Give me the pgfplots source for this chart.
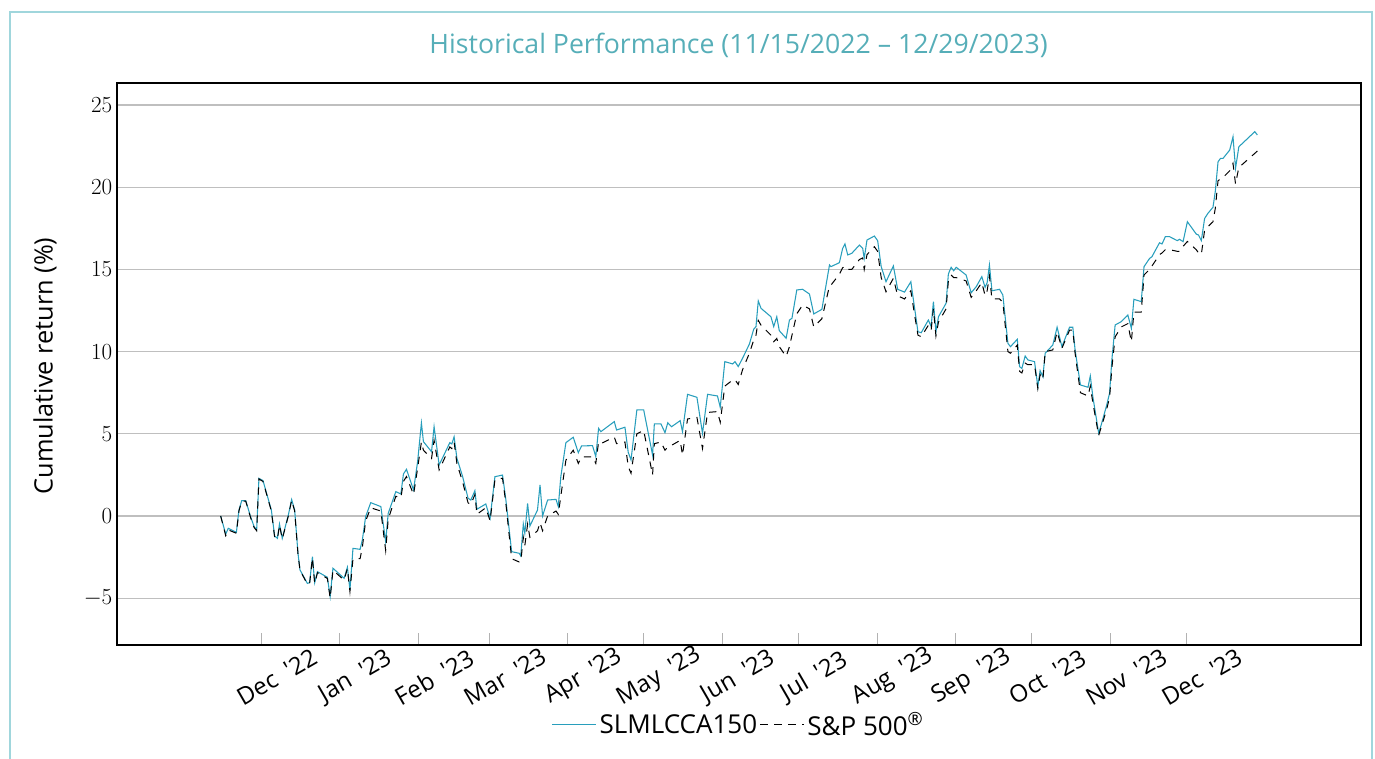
\documentclass[border=0pt]{standalone}
\usepackage{pgfplots}
\pgfplotsset{compat=1.18}
\usepackage{fontspec}
\setmainfont{Open Sans}
\definecolor{lineteal}{RGB}{40,158,188}
\definecolor{titleteal}{RGB}{86,174,184}
\definecolor{frameteal}{RGB}{160,214,220}
\newcommand{\q}{\hspace{4.5pt}\textquotesingle}
\begin{document}
\begin{tikzpicture}
\useasboundingbox (0,0) rectangle (1031.25pt,-568.5pt);
\draw[frameteal, line width=1.1pt] (7.5pt,-600pt) -- (7.5pt,-9pt) -- (1029pt,-9pt) -- (1029pt,-600pt);
\node[titleteal, font=\fontsize{20}{24}\selectfont] at (553.9pt,-33.75pt) {Historical Performance (11/15/2022 -- 12/29/2023)};
\node[black, rotate=90, font=\fontsize{19}{23}\selectfont] at (33.75pt,-274.5pt) {Cumulative return (\%)};
\begin{axis}[
  at={(87.75pt,-62.25pt)}, anchor=north west,
  scale only axis, width=933pt, height=421.5pt,
  xmin=-40.9, xmax=449.9, ymin=-7.85, ymax=26.34,
  axis line style={black, line width=0.8pt},
  xtick={16,47,78,106,137,167,198,228,259,290,320,351,381},
  xticklabels={Dec \q22,Jan \q23,Feb \q23,Mar \q23,Apr \q23,May \q23,Jun \q23,Jul \q23,Aug \q23,Sep \q23,Oct \q23,Nov \q23,Dec \q23},
  xtick pos=bottom, tick align=inside, major tick length=9pt,
  xtick style={draw=gray!60, line width=0.8pt},
  xticklabel style={xshift=12pt, yshift=-24pt, rotate=30, anchor=center, font=\fontsize{18}{21}\selectfont},
  ytick={-5,0,5,10,15,20,25},
  ytick style={draw=none},
  yticklabel style={font=\fontsize{19}{21}\selectfont},
  ymajorgrids, grid style={gray!50, line width=0.8pt},
  legend style={at={(0.5,-0.142)}, anchor=center, draw=none, fill=none, legend columns=-1,
    font=\fontsize{19.5}{22}\selectfont, /tikz/every even column/.append style={column sep=0pt}},
  legend image code/.code={\draw[#1] (0pt,0pt) -- (33pt,0pt);},
]
\addplot[lineteal, line width=0.8pt] coordinates {
(0,0) (2,-1.1) (3,-0.75) (6.2,-1.0) (7.2,0.36) (8.3,0.93) (9.9,0.93) (11.8,-0.04) (13.2,-0.65) (14.2,-0.85)
(15.1,2.29) (16.7,2.15) (20,0.36) (21.3,-1.22) (22.4,-1.36) (23.2,-0.49) (24.3,-1.36) (26.7,0.06) (28,1.0) (29.2,0.36)
(30.5,-2.27) (31.3,-3.28) (34.2,-4.1) (35.1,-4.06) (36.2,-2.48) (37.1,-4.06) (38.2,-3.39) (42.1,-3.73) (43.2,-4.9) (44.3,-3.18)
(48.7,-3.79) (50,-3.12) (51,-4.5) (52.2,-1.97) (55,-2.03) (55.9,-1.46) (57.2,-0.04) (59.2,0.81) (63.2,0.57) (65.1,-1.56)
(66.1,0.16) (69.1,1.48) (71.1,1.34) (72.1,2.55) (73.3,2.84) (76.1,1.58) (77.7,3.30) (79.2,5.66) (80,4.52) (83.2,3.91)
(84.2,5.43) (86.2,3.10) (90.4,4.46) (91.2,4.38) (92.1,4.82) (93.2,3.51) (95.4,2.43) (97.6,1.08) (98.7,0.97) (100.3,1.54)
(101.1,0.41) (104.6,0.73) (106.3,-0.14) (108.2,2.39) (111.2,2.49) (112.5,1.01) (114.8,-2.17) (117.8,-2.27) (118.4,-2.43) (119.4,-0.49)
(120,-1.05) (121.1,0.77) (122,-0.61) (125,0.36) (126,1.89) (127,0) (129,0.97) (132.3,1.01) (133.2,0.57) (134.2,2.39)
(136.2,4.46) (139.1,4.79) (141.1,3.85) (142.4,4.26) (146.7,4.28) (148,3.61) (149.1,5.33) (150,5.13) (155.3,5.74) (156.2,5.23)
(159.5,5.40) (160.8,3.87) (161.9,3.41) (164.2,6.45) (166.9,6.45) (170.4,3.71) (171.1,5.60) (173.7,5.60) (175.3,5.07) (176.4,5.67)
(177.9,5.43) (181.3,5.80) (182.2,5.13) (184.2,7.40) (187.9,7.22) (190.1,5.03) (192.1,7.40) (196,7.30) (197.1,6.61) (198.9,9.39)
(202,9.25) (202.9,9.39) (204.2,9.09) (205.9,9.59) (208.6,10.46) (210.3,11.36) (211.2,11.52) (212.1,13.08) (213.2,12.63) (217.1,12.12)
(218.2,11.52) (219.4,12.12) (220.4,11.27) (223.1,10.81) (224.4,11.92) (225.4,12.03) (227.3,13.75) (229.6,13.79) (232.3,13.50) (234,12.29)
(237.2,12.57) (240.2,15.27) (240.8,15.17) (244.1,15.41) (245.4,16.28) (246.3,16.55) (247.4,15.88) (249,15.98) (252,16.48) (253.3,16.28)
(253.9,15.67) (255,16.79) (257.9,17.03) (259.2,16.75) (260.6,15.17) (262.5,14.25) (265.4,15.21) (267.1,13.79) (269.8,13.62) (272.3,14.25)
(273.7,12.73) (275.1,11.21) (276.4,11.15) (279.2,11.92) (280.3,11.52) (281.2,13.04) (282.2,11.21) (283.2,12.12) (286.2,12.94) (287.1,14.72)
(288.2,15.13) (289.2,14.92) (290.2,15.13) (294.1,14.66) (296.1,13.58) (298.1,13.95) (300.3,14.56) (301.6,13.91) (302.4,14.19) (303.3,15.27)
(304.3,13.70) (307.3,13.79) (308.6,13.44) (310.6,10.5) (311.6,10.3) (314.3,10.75) (315.2,9.08) (316.1,8.98) (317.4,9.73) (318.5,9.49)
(321.1,9.39) (322.4,7.87) (323.3,8.84) (324.4,8.47) (325.3,9.90) (328.3,10.4) (330,11.48) (331.9,10.3) (334.9,11.48) (336.2,11.48)
(337.1,10.1) (339.2,7.97) (342.2,7.83) (343.1,8.52) (344.1,7.26) (346.4,5.05) (347.4,5.54) (349.4,6.65) (350.7,7.46) (351.6,9.49)
(352.9,11.62) (355.3,11.82) (357.9,12.23) (359.3,11.42) (360.3,13.18) (363.2,13.04) (364.3,15.17) (366.5,15.67) (367.4,15.77) (370.4,16.62)
(371.4,16.55) (372.7,16.99) (374.4,16.99) (377.4,16.75) (378.3,16.83) (379.7,16.69) (381.4,17.90) (384.9,17.15) (385.8,17.09) (386.9,16.75)
(388.2,18.1) (389.5,18.41) (391.5,18.78) (392.4,19.73) (393.5,21.55) (394.5,21.76) (395.5,21.76) (398.1,22.26) (399.4,23.07) (400.4,21.15)
(401.7,22.46) (408,23.38) (409,23.18)
};
\addlegendentry{SLMLCCA150}
\addplot[black, line width=0.75pt, dash pattern=on 5.5pt off 5pt] coordinates {
(0,0) (2,-1.2) (3,-0.85) (6.2,-1.05) (7.2,0.3) (8.3,0.9) (9.9,0.9) (11.8,-0.1) (13.2,-0.7) (14.2,-0.9)
(15.1,2.25) (16.7,2.1) (20,0.3) (21.3,-1.3) (22.4,-1.4) (23.2,-0.55) (24.3,-1.4) (26.7,0.0) (28,0.95) (29.2,0.3)
(30.5,-2.3) (31.3,-3.3) (34.2,-4.15) (35.1,-4.1) (36.2,-2.55) (37.1,-4.1) (38.2,-3.45) (42.1,-3.8) (43.2,-5.0) (44.3,-3.3)
(48.7,-3.9) (50,-3.2) (51,-4.6) (52.2,-2.6) (55,-2.6) (55.9,-1.9) (57.2,-0.3) (59.2,0.5) (63.2,0.3) (65.1,-2.1)
(66.1,-0.2) (69.1,1.2) (71.1,1.1) (72.1,2.1) (73.3,2.4) (76.1,1.3) (77.7,2.9) (79.2,4.5) (80,4.0) (83.2,3.5)
(84.2,4.6) (86.2,2.8) (90.4,4.2) (91.2,4.1) (92.1,4.5) (93.2,3.2) (95.4,2.1) (97.6,0.8) (98.7,0.7) (100.3,1.3)
(101.1,0.1) (104.6,0.5) (106.3,-0.3) (108.2,2.2) (111.2,2.3) (112.5,0.8) (114.8,-2.6) (117.8,-2.8) (118.4,-2.8) (119.4,-1.3)
(120,-1.8) (121.1,-0.5) (122,-1.3) (125,-0.9) (126,-0.4) (127,-0.9) (129,0.0) (132.3,0.3) (133.2,0.1) (134.2,1.2)
(136.2,3.4) (139.1,4.0) (141.1,3.2) (142.4,3.6) (146.7,3.6) (148,3.2) (149.1,4.5) (150,4.4) (155.3,4.8) (156.2,4.4)
(159.5,4.5) (160.8,3.0) (161.9,2.6) (164.2,5.0) (166.9,5.2) (170.4,2.5) (171.1,4.4) (173.7,4.5) (175.3,4.0) (176.4,4.2)
(177.9,4.3) (181.3,4.6) (182.2,3.7) (184.2,5.9) (187.9,6.0) (190.1,4.1) (192.1,6.3) (196,6.35) (197.1,5.7) (198.9,7.9)
(202,8.27) (202.9,8.3) (204.2,8.0) (205.9,8.9) (208.6,9.9) (210.3,10.7) (211.2,11.0) (212.1,11.9) (213.2,11.6) (217.1,11.0)
(218.2,10.6) (219.4,10.8) (220.4,10.3) (223.1,9.7) (224.4,10.3) (225.4,11.0) (227.3,12.3) (229.6,12.83) (232.3,12.6) (234,11.5)
(237.2,12.0) (240.2,14.0) (240.8,14.05) (244.1,14.7) (245.4,15.1) (246.3,15.2) (247.4,15.0) (249,15.0) (252,15.6) (253.3,15.7)
(253.9,15.0) (255,15.9) (257.9,16.38) (259.2,16.1) (260.6,14.5) (262.5,13.64) (265.4,14.46) (267.1,13.4) (269.8,13.2) (272.3,13.7)
(273.7,12.3) (275.1,11.0) (276.4,10.9) (279.2,11.6) (280.3,11.3) (281.2,12.6) (282.2,10.95) (283.2,11.8) (286.2,12.6) (287.1,14.3)
(288.2,14.66) (289.2,14.5) (290.2,14.5) (294.1,14.3) (296.1,13.3) (298.1,13.7) (300.3,14.2) (301.6,13.4) (302.4,13.7) (303.3,14.6)
(304.3,13.2) (307.3,13.2) (308.6,13.0) (310.6,10.0) (311.6,9.9) (314.3,10.4) (315.2,8.8) (316.1,8.7) (317.4,9.3) (318.5,9.2)
(321.1,9.2) (322.4,7.75) (323.3,8.6) (324.4,8.3) (325.3,10.0) (328.3,10.1) (330,11.2) (331.9,10.2) (334.9,11.3) (336.2,11.3)
(337.1,9.9) (339.2,7.5) (342.2,7.3) (343.1,7.9) (344.1,6.9) (346.4,4.9) (347.4,5.4) (349.4,6.4) (350.7,7.2) (351.6,9.0)
(352.9,10.9) (355.3,11.5) (357.9,11.7) (359.3,10.6) (360.3,12.4) (363.2,12.4) (364.3,14.66) (366.5,15.0) (367.4,15.2) (370.4,15.9)
(371.4,16.0) (372.7,16.2) (374.4,16.2) (377.4,16.1) (378.3,16.1) (379.7,16.4) (381.4,16.7) (384.9,16.2) (385.8,16.0) (386.9,15.9)
(388.2,17.4) (389.5,17.6) (391.5,17.9) (392.4,18.7) (393.5,20.4) (394.5,20.5) (395.5,20.6) (398.1,21.0) (399.4,21.45) (400.4,20.2)
(401.7,21.2) (408,22.06) (409,22.2)
};
\addlegendentry{S\&P 500\textsuperscript{®}}
\end{axis}
\end{tikzpicture}
\end{document}
